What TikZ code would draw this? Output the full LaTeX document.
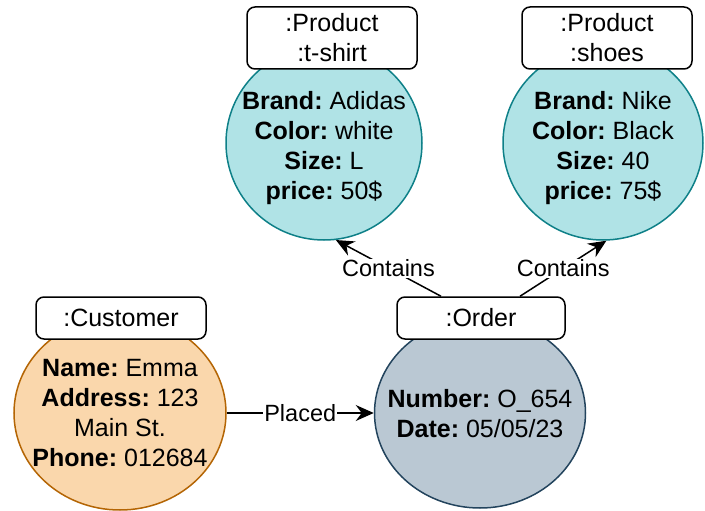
\documentclass[tikz,border=0pt]{standalone}
\usepackage{fontspec}
\setmainfont{Liberation Sans}
\usepackage{tikz}
\usetikzlibrary{shapes,arrows.meta}
\usetikzlibrary{positioning}
\usetikzlibrary{calc}
\frenchspacing
\definecolor{prodfill}{HTML}{B0E3E6}
\definecolor{proddraw}{HTML}{0E8088}
\definecolor{custfill}{HTML}{FAD7AC}
\definecolor{custdraw}{HTML}{B46504}
\definecolor{ordfill}{HTML}{BAC8D3}
\definecolor{orddraw}{HTML}{23445D}
\newcommand\attr[2]{\textbf{#1:} #2}
\newcommand\objnode[5][]{%
  \node[objnode,#1,label={[attrtext,yshift=#5]center:#4}] (#2) at (#3) {};
}

\begin{document}
\begin{tikzpicture}[x=1pt, y=-1pt,
>={Stealth[length=18pt,width=16pt,inset=6pt]},
objnode/.style={
  ellipse,
  draw,
  line width=1.5pt,
  inner sep=0pt},
attrtext/.style={
  align=center,
  inner sep=0pt,
  font=\fontsize{25}{30}\selectfont},
namebox/.style={
  rectangle,
  rounded corners=8pt,
  draw,
  line width=1.5pt,
  fill=white,
  align=center,
  inner sep=0pt,
  minimum width=170pt,
  font=\fontsize{25}{30}\selectfont},
rel/.style={->, line width=1.5pt},
rellabel/.style={fill=white, inner sep=1pt, font=\fontsize{23.5}{28}\selectfont}
]
\useasboundingbox (0,0) rectangle (705,511);
% objects
\objnode[fill=prodfill,draw=proddraw,minimum width=196pt,minimum height=194pt]{tshirt}{324,143}{\attr{Brand}{Adidas}\\\attr{Color}{white}\\\attr{Size}{L}\\\attr{price}{50\$}}{-5pt}
\objnode[fill=prodfill,draw=proddraw,minimum width=200pt,minimum height=194pt]{shoes}{603,143}{\attr{Brand}{Nike}\\\attr{Color}{Black}\\\attr{Size}{40}\\\attr{price}{75\$}}{-5pt}
\objnode[fill=custfill,draw=custdraw,minimum width=212pt,minimum height=194pt]{customer}{120,413}{\attr{Name}{Emma}\\\attr{Address}{123}\\Main St.\\\attr{Phone}{012684}}{0pt}
\objnode[fill=ordfill,draw=orddraw,minimum width=211pt,minimum height=190pt]{order}{480,413}{\attr{Number}{O\_654}\\\attr{Date}{05/05/23}}{-1pt}
% name boxes
\node[namebox,minimum height=62pt] (tshirtlbl) at (332,38) {:Product\\:t-shirt};
\node[namebox,minimum height=62pt] (shoeslbl) at (607,38) {:Product\\:shoes};
\node[namebox,minimum height=42pt] (customerlbl) at (121,318) {:Customer};
\node[namebox,minimum height=42pt,minimum width=168pt] (orderlbl) at (481,318) {:Order};
% relations
\draw[rel] (customer) -- node[rellabel] {Placed} (order);
\draw[rel] ([xshift=-40pt]orderlbl.north) -- node[rellabel] {Contains} (tshirt.-83);
\draw[rel] ([xshift=39pt]orderlbl.north) -- node[rellabel] {Contains} (shoes.-88);
\end{tikzpicture}
\end{document}
